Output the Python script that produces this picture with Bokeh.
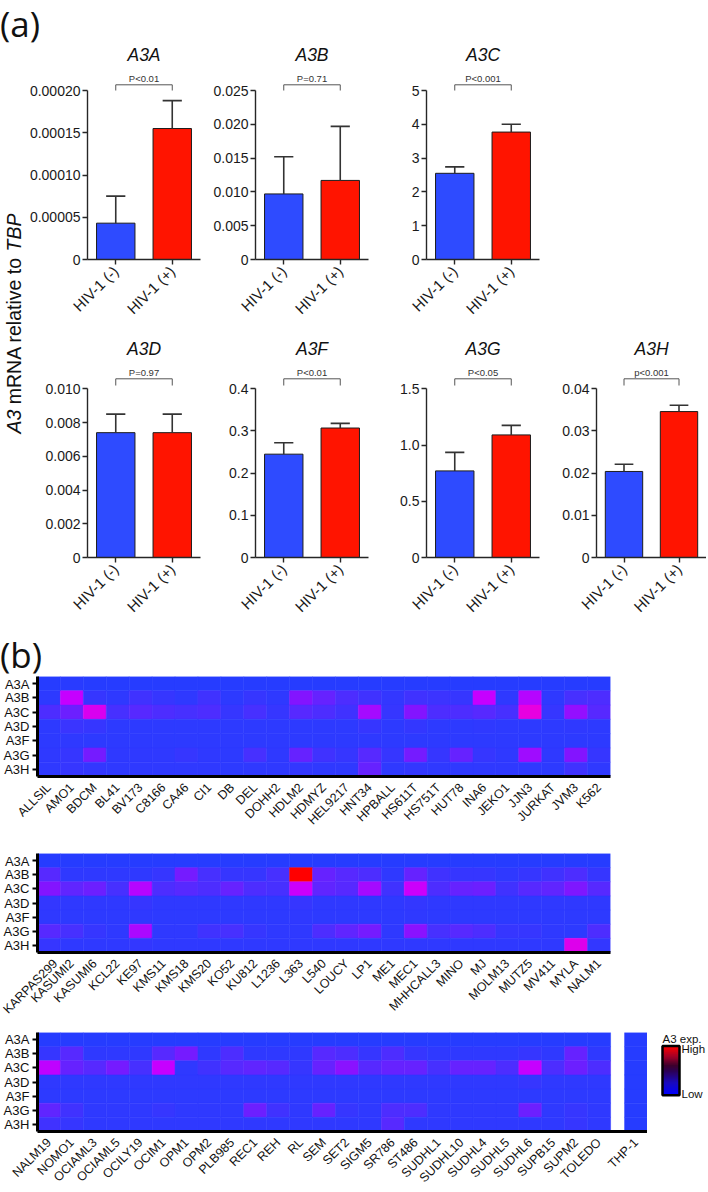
import math
import numpy as np
from bokeh.plotting import figure
from bokeh.models import ColumnDataSource, Range1d, FixedTicker, FactorRange, LinearColorMapper, Div
from bokeh.layouts import row, column
from bokeh.transform import transform, dodge
from bokeh.core.properties import value
from bokeh.embed import file_html
from bokeh.resources import INLINE

FONT = "Liberation Sans"
HEAD_FONT = "Open Sans"
BLUE = "#2E4BFF"
RED = "#FF1400"
AXIS = "#262626"

# ---------------- panel (a) data ----------------
groups = ["HIV-1 (-)", "HIV-1 (+)"]

a3a_mean = [0.000043, 0.000155]
a3a_upper = [0.000075, 0.000188]
a3a_ticks = [0, 0.00005, 0.0001, 0.00015, 0.0002]
a3a_labels = ["0", "0.00005", "0.00010", "0.00015", "0.00020"]
a3a_p = "P<0.01"

a3b_mean = [0.0097, 0.0117]
a3b_upper = [0.0152, 0.0197]
a3b_ticks = [0, 0.005, 0.01, 0.015, 0.02, 0.025]
a3b_labels = ["0", "0.005", "0.010", "0.015", "0.020", "0.025"]
a3b_p = "P=0.71"

a3c_mean = [2.55, 3.77]
a3c_upper = [2.74, 4.0]
a3c_ticks = [0, 1, 2, 3, 4, 5]
a3c_labels = ["0", "1", "2", "3", "4", "5"]
a3c_p = "P<0.001"

a3d_mean = [0.0074, 0.0074]
a3d_upper = [0.0085, 0.0085]
a3d_ticks = [0, 0.002, 0.004, 0.006, 0.008, 0.01]
a3d_labels = ["0", "0.002", "0.004", "0.006", "0.008", "0.010"]
a3d_p = "P=0.97"

a3f_mean = [0.245, 0.307]
a3f_upper = [0.272, 0.318]
a3f_ticks = [0, 0.1, 0.2, 0.3, 0.4]
a3f_labels = ["0", "0.1", "0.2", "0.3", "0.4"]
a3f_p = "P<0.01"

a3g_mean = [0.77, 1.09]
a3g_upper = [0.935, 1.175]
a3g_ticks = [0, 0.5, 1.0, 1.5]
a3g_labels = ["0", "0.5", "1.0", "1.5"]
a3g_p = "P<0.05"

a3h_mean = [0.0204, 0.0346]
a3h_upper = [0.0221, 0.0361]
a3h_ticks = [0, 0.01, 0.02, 0.03, 0.04]
a3h_labels = ["0", "0.01", "0.02", "0.03", "0.04"]
a3h_p = "p<0.001"

# ---------------- panel (b) data ----------------
genes = ["A3A", "A3B", "A3C", "A3D", "A3F", "A3G", "A3H"]

hm1_lines = ["ALLSIL", "AMO1", "BDCM", "BL41", "BV173", "C8166", "CA46", "CI1", "DB", "DEL",
             "DOHH2", "HDLM2", "HDMYZ", "HEL9217", "HNT34", "HPBALL", "HS611T", "HS751T",
             "HUT78", "INA6", "JEKO1", "JJN3", "JURKAT", "JVM3", "K562"]
hm1_A3A = [0.00, 0.01, 0.00, 0.00, 0.00, 0.00, 0.00, 0.00, 0.00, 0.00, 0.00, 0.00, 0.00,
           0.00, 0.00, 0.00, 0.00, 0.00, 0.00, 0.00, 0.00, 0.00, 0.00, 0.00, 0.00]
hm1_A3B = [0.02, 0.50, 0.05, 0.03, 0.08, 0.05, 0.03, 0.08, 0.02, 0.05, 0.03, 0.30, 0.20,
           0.12, 0.08, 0.04, 0.08, 0.07, 0.05, 0.50, 0.03, 0.45, 0.03, 0.10, 0.12]
hm1_A3C = [0.12, 0.22, 0.58, 0.10, 0.15, 0.12, 0.10, 0.12, 0.05, 0.10, 0.05, 0.15, 0.12,
           0.08, 0.40, 0.05, 0.30, 0.12, 0.12, 0.15, 0.10, 0.65, 0.05, 0.35, 0.15]
hm1_A3D = [0.02, 0.06, 0.05, 0.02, 0.02, 0.02, 0.02, 0.02, 0.02, 0.02, 0.02, 0.02, 0.02,
           0.02, 0.05, 0.02, 0.04, 0.02, 0.02, 0.03, 0.02, 0.02, 0.02, 0.03, 0.02]
hm1_A3F = [0.02, 0.03, 0.02, 0.02, 0.02, 0.02, 0.02, 0.02, 0.02, 0.02, 0.02, 0.02, 0.02,
           0.02, 0.03, 0.02, 0.02, 0.02, 0.02, 0.02, 0.02, 0.02, 0.02, 0.02, 0.02]
hm1_A3G = [0.03, 0.05, 0.25, 0.03, 0.03, 0.03, 0.05, 0.03, 0.02, 0.10, 0.03, 0.20, 0.08,
           0.05, 0.15, 0.05, 0.25, 0.05, 0.20, 0.05, 0.03, 0.38, 0.03, 0.30, 0.05]
hm1_A3H = [0.03, 0.05, 0.04, 0.03, 0.03, 0.03, 0.03, 0.03, 0.02, 0.03, 0.03, 0.04, 0.03,
           0.03, 0.20, 0.03, 0.04, 0.03, 0.03, 0.03, 0.03, 0.03, 0.02, 0.08, 0.03]

hm2_lines = ["KARPAS299", "KASUMI2", "KASUMI6", "KCL22", "KE97", "KMS11", "KMS18", "KMS20",
             "KO52", "KU812", "L1236", "L363", "L540", "LOUCY", "LP1", "ME1", "MEC1",
             "MHHCALL3", "MINO", "MJ", "MOLM13", "MUTZ5", "MV411", "MYLA", "NALM1"]
hm2_A3A = [0.00, 0.00, 0.00, 0.00, 0.00, 0.00, 0.00, 0.00, 0.00, 0.00, 0.00, 0.00, 0.00,
           0.00, 0.00, 0.00, 0.00, 0.00, 0.00, 0.00, 0.00, 0.00, 0.00, 0.00, 0.00]
hm2_A3B = [0.15, 0.03, 0.03, 0.03, 0.03, 0.05, 0.25, 0.10, 0.05, 0.05, 0.10, 1.00, 0.20,
           0.15, 0.12, 0.03, 0.20, 0.08, 0.05, 0.05, 0.03, 0.05, 0.08, 0.12, 0.05]
hm2_A3C = [0.30, 0.18, 0.22, 0.10, 0.45, 0.12, 0.15, 0.12, 0.20, 0.12, 0.10, 0.52, 0.18,
           0.15, 0.40, 0.08, 0.52, 0.12, 0.20, 0.22, 0.08, 0.15, 0.18, 0.28, 0.15]
hm2_A3D = [0.04, 0.03, 0.03, 0.03, 0.05, 0.03, 0.03, 0.03, 0.03, 0.03, 0.03, 0.05, 0.03,
           0.03, 0.03, 0.03, 0.04, 0.03, 0.03, 0.03, 0.03, 0.03, 0.03, 0.03, 0.03]
hm2_A3F = [0.03, 0.02, 0.02, 0.02, 0.03, 0.02, 0.02, 0.02, 0.02, 0.02, 0.02, 0.03, 0.02,
           0.02, 0.02, 0.02, 0.03, 0.02, 0.02, 0.02, 0.02, 0.02, 0.02, 0.02, 0.02]
hm2_A3G = [0.15, 0.10, 0.05, 0.03, 0.42, 0.03, 0.03, 0.08, 0.10, 0.05, 0.03, 0.03, 0.12,
           0.18, 0.25, 0.03, 0.32, 0.10, 0.15, 0.12, 0.05, 0.05, 0.03, 0.02, 0.12]
hm2_A3H = [0.05, 0.03, 0.03, 0.03, 0.04, 0.03, 0.03, 0.03, 0.03, 0.03, 0.03, 0.03, 0.03,
           0.03, 0.03, 0.03, 0.03, 0.03, 0.03, 0.03, 0.03, 0.03, 0.03, 0.60, 0.04]

hm3_lines = ["NALM19", "NOMO1", "OCIAML3", "OCIAML5", "OCILY19", "OCIM1", "OPM1", "OPM2",
             "PLB985", "REC1", "REH", "RL", "SEM", "SET2", "SIGM5", "SR786", "ST486",
             "SUDHL1", "SUDHL10", "SUDHL4", "SUDHL5", "SUDHL6", "SUPB15", "SUPM2", "TOLEDO"]
hm3_A3A = [0.00, 0.00, 0.00, 0.00, 0.00, 0.00, 0.00, 0.00, 0.00, 0.00, 0.00, 0.00, 0.00,
           0.00, 0.00, 0.00, 0.00, 0.00, 0.00, 0.00, 0.00, 0.00, 0.00, 0.00, 0.00]
hm3_A3B = [0.05, 0.15, 0.03, 0.03, 0.03, 0.15, 0.25, 0.03, 0.12, 0.03, 0.03, 0.03, 0.15,
           0.12, 0.05, 0.12, 0.05, 0.03, 0.03, 0.03, 0.03, 0.05, 0.03, 0.20, 0.03]
hm3_A3C = [0.48, 0.20, 0.15, 0.25, 0.10, 0.50, 0.03, 0.08, 0.15, 0.18, 0.15, 0.05, 0.20,
           0.32, 0.15, 0.20, 0.20, 0.10, 0.20, 0.20, 0.12, 0.50, 0.12, 0.22, 0.12]
hm3_A3D = [0.03, 0.03, 0.03, 0.03, 0.03, 0.03, 0.03, 0.03, 0.03, 0.03, 0.03, 0.03, 0.03,
           0.03, 0.03, 0.03, 0.03, 0.03, 0.03, 0.03, 0.03, 0.05, 0.03, 0.03, 0.03]
hm3_A3F = [0.02, 0.02, 0.02, 0.02, 0.02, 0.02, 0.02, 0.02, 0.02, 0.02, 0.02, 0.02, 0.02,
           0.02, 0.02, 0.02, 0.02, 0.02, 0.02, 0.02, 0.02, 0.02, 0.02, 0.02, 0.02]
hm3_A3G = [0.18, 0.08, 0.03, 0.03, 0.03, 0.05, 0.03, 0.03, 0.03, 0.22, 0.08, 0.03, 0.20,
           0.05, 0.03, 0.12, 0.12, 0.03, 0.03, 0.03, 0.03, 0.22, 0.03, 0.05, 0.03]
hm3_A3H = [0.08, 0.05, 0.03, 0.03, 0.03, 0.03, 0.03, 0.03, 0.03, 0.03, 0.03, 0.03, 0.03,
           0.03, 0.03, 0.15, 0.03, 0.03, 0.03, 0.03, 0.03, 0.03, 0.03, 0.05, 0.03]

thp1_line = "THP-1"
thp1_vals = [0.0, 0.0, 0.0, 0.0, 0.0, 0.0, 0.0]

cbar_title = "A3 exp."
cbar_labels = ["Low", "High"]


# ---------------- colour ramps (style) ----------------
def ramp(stops, n=256):
    out = []
    for i in range(n):
        t = i / (n - 1)
        c = stops[-1][1]
        for (t0, c0), (t1, c1) in zip(stops[:-1], stops[1:]):
            if t0 <= t <= t1:
                f = (t - t0) / (t1 - t0)
                c = [round(a + (b - a) * f) for a, b in zip(c0, c1)]
                break
        out.append("#%02x%02x%02x" % tuple(c))
    return out


cell_palette = ramp([(0.0, (38, 60, 255)), (0.12, (78, 45, 255)), (0.30, (132, 20, 255)),
                     (0.50, (198, 0, 255)), (0.65, (232, 0, 225)), (0.82, (248, 0, 110)),
                     (1.0, (255, 0, 0))])
bar_palette = ramp([(0.0, (0, 0, 255)), (0.25, (25, 10, 190)), (0.5, (45, 0, 80)),
                    (0.6, (60, 0, 45)), (0.78, (160, 0, 40)), (1.0, (255, 0, 0))])
cell_mapper = LinearColorMapper(palette=cell_palette, low=0, high=1)
bar_mapper = LinearColorMapper(palette=bar_palette, low=0, high=1)


def blank(w, h):
    p = figure(width=w, height=h, x_range=Range1d(0, w), y_range=Range1d(0, h),
               min_border=0, min_border_left=0, min_border_right=0,
               min_border_top=0, min_border_bottom=0,
               x_axis_location=None, y_axis_location=None,
               toolbar_location=None, output_backend="svg", title=None)
    p.outline_line_color = None
    p.xgrid.visible = False
    p.ygrid.visible = False
    return p


def header(txt, h, lh):
    return Div(text=txt, width=200, height=h, margin=(0, 0, 0, 0),
               styles={"font-family": "'Open Sans'", "font-size": "35px",
                       "line-height": f"{lh}px", "color": "#111111",
                       "margin": "0", "padding": "0"})


def bar_panel(name, mean, upper, ticks, labels, ptext, frame_w, frame_h, axis_top,
              px_title, px_p, px_br, px_leg, left, right, bottom):
    ymax = ticks[-1]
    axis_h = frame_h - axis_top

    def yd(px):
        return ymax * (frame_h - px) / axis_h

    p = figure(title=None, toolbar_location=None, output_backend="svg",
               frame_width=frame_w, frame_height=frame_h,
               x_range=Range1d(0.5, 2.5), y_range=Range1d(0, yd(0)),
               min_border_left=left, min_border_right=right,
               min_border_top=0, min_border_bottom=bottom)
    src = ColumnDataSource(dict(x=[1, 2], top=mean, upper=upper, color=[BLUE, RED]))
    p.vbar(x="x", top="top", bottom=0, width=0.68, fill_color="color",
           line_color="#1c1c1c", line_width=1, source=src)
    p.segment(x0="x", y0="top", x1="x", y1="upper", line_color="#333333",
              line_width=1.6, source=src)
    p.segment(x0=dodge("x", -0.17), y0="upper", x1=dodge("x", 0.17), y1="upper",
              line_color="#333333", line_width=1.6, source=src)
    # significance bracket
    p.line(x=[1, 1, 2, 2], y=[yd(px_leg), yd(px_br), yd(px_br), yd(px_leg)],
           line_color="#555555", line_width=1)
    p.text(x=[1.5], y=[yd(px_p)], text=[ptext], text_font=value(FONT),
           text_font_size="9.5px", text_color="#333333",
           text_align="center", text_baseline="middle")
    p.text(x=[1.5], y=[yd(px_title)], text=[name], text_font=value(FONT),
           text_font_style="italic", text_font_size="17.5px", text_color="#111111",
           text_align="center", text_baseline="middle")

    p.outline_line_color = None
    p.xgrid.visible = False
    p.ygrid.visible = False
    for ax in (p.xaxis[0], p.yaxis[0]):
        ax.axis_line_color = AXIS
        ax.axis_line_width = 1.4
        ax.major_tick_line_color = AXIS
        ax.major_tick_line_width = 1.4
        ax.major_tick_out = 5
        ax.major_tick_in = 0
        ax.minor_tick_line_color = None
        ax.major_label_text_font = FONT
        ax.major_label_text_font_size = "14px"
        ax.major_label_text_color = "#1a1a1a"
    p.yaxis.ticker = FixedTicker(ticks=ticks)
    p.yaxis.major_label_overrides = dict(zip(ticks, labels))
    p.yaxis.bounds = (0, ymax)
    p.yaxis.major_label_standoff = 2
    p.xaxis.ticker = FixedTicker(ticks=[1, 2])
    p.xaxis.major_label_overrides = {1: groups[0], 2: groups[1]}
    p.xaxis.major_label_orientation = math.pi / 4
    p.xaxis.major_label_standoff = 4
    p.xaxis.major_label_text_font_size = "15px"
    return p


R1 = dict(frame_h=217, axis_top=48, px_title=12.5, px_p=36, px_br=42.3, px_leg=48, bottom=77)
R2 = dict(frame_h=221, axis_top=52.3, px_title=12.5, px_p=35.7, px_br=42.3, px_leg=49, bottom=75)

f_a3a = bar_panel("A3A", a3a_mean, a3a_upper, a3a_ticks, a3a_labels, a3a_p, 113, left=62, right=5, **R1)
f_a3b = bar_panel("A3B", a3b_mean, a3b_upper, a3b_ticks, a3b_labels, a3b_p, 113, left=50, right=5, **R1)
f_a3c = bar_panel("A3C", a3c_mean, a3c_upper, a3c_ticks, a3c_labels, a3c_p, 113, left=53, right=5, **R1)
f_a3d = bar_panel("A3D", a3d_mean, a3d_upper, a3d_ticks, a3d_labels, a3d_p, 113, left=62, right=5, **R2)
f_a3f = bar_panel("A3F", a3f_mean, a3f_upper, a3f_ticks, a3f_labels, a3f_p, 113, left=50, right=5, **R2)
f_a3g = bar_panel("A3G", a3g_mean, a3g_upper, a3g_ticks, a3g_labels, a3g_p, 113, left=53, right=5, **R2)
f_a3h = bar_panel("A3H", a3h_mean, a3h_upper, a3h_ticks, a3h_labels, a3h_p, 110, left=52, right=0, **R2)

# shared y-axis title (rotated), split for italic gene names
YLAB_H = 217 + 77 + 221 + 75
ylab = blank(25, YLAB_H)
y_fs = 19.5
w_a3, w_sp, w_mid = 1.223 * y_fs, 0.278 * y_fs, 7.557 * y_fs
y_center = YLAB_H - 281
y0 = y_center - (w_a3 + w_sp + w_mid + w_sp + 1.945 * y_fs) / 2
for txt, yy, style in [("A3", y0, "italic"),
                       ("mRNA relative to", y0 + w_a3 + w_sp, "normal"),
                       ("TBP", y0 + w_a3 + w_sp + w_mid + w_sp, "italic")]:
    ylab.text(x=[13.5], y=[yy], text=[txt], angle=math.pi / 2, text_font=value(FONT),
              text_font_style=style, text_font_size=f"{y_fs}px", text_color="#111111",
              text_align="left", text_baseline="middle")

head_a = header("(a)", 42, 48)
head_b = header("(b)", 44, 46)


def heat_panel(xfactors, xkeys, rows, frame_h, top, bottom, frame_w=573, group_padding=0.0):
    xs, ys, vs = [], [], []
    for g, vals in zip(genes, rows):
        for key, v in zip(xkeys, vals):
            xs.append(key)
            ys.append(g)
            vs.append(v)
    p = figure(title=None, toolbar_location=None, output_backend="svg",
               x_range=FactorRange(factors=list(xfactors), group_padding=group_padding),
               y_range=FactorRange(factors=genes[::-1]),
               frame_width=frame_w, frame_height=frame_h,
               min_border_left=37, min_border_right=0 if group_padding else 8,
               min_border_top=top, min_border_bottom=bottom)
    src = ColumnDataSource(dict(x=xs, y=ys, v=vs))
    p.rect(x="x", y="y", width=1, height=1, source=src,
           fill_color=transform("v", cell_mapper), line_color=transform("v", cell_mapper),
           line_width=0.5)
    p.outline_line_color = None
    p.xgrid.visible = False
    p.ygrid.visible = False
    xa = p.xaxis[0]
    xa.axis_line_color = "black"
    xa.axis_line_width = 3
    xa.major_tick_line_color = None
    xa.minor_tick_line_color = None
    xa.major_label_orientation = math.pi / 4
    xa.major_label_text_font = FONT
    xa.major_label_text_font_size = "12.5px"
    xa.major_label_text_color = "#111111"
    xa.major_label_standoff = 3
    xa.group_text_font_size = "1px"
    xa.group_text_alpha = 0
    xa.separator_line_color = None
    ya = p.yaxis[0]
    ya.axis_line_color = "black"
    ya.axis_line_width = 3
    ya.major_tick_line_color = "black"
    ya.major_tick_line_width = 2
    ya.major_tick_out = 5
    ya.major_tick_in = 0
    ya.minor_tick_line_color = None
    ya.major_label_text_font = FONT
    ya.major_label_text_font_size = "13px"
    ya.major_label_text_color = "#111111"
    ya.major_label_standoff = 3
    return p


hm1 = heat_panel(hm1_lines, hm1_lines,
                 [hm1_A3A, hm1_A3B, hm1_A3C, hm1_A3D, hm1_A3F, hm1_A3G, hm1_A3H],
                 frame_h=100, top=0, bottom=77)
hm2 = heat_panel(hm2_lines, hm2_lines,
                 [hm2_A3A, hm2_A3B, hm2_A3C, hm2_A3D, hm2_A3F, hm2_A3G, hm2_A3H],
                 frame_h=99, top=0, bottom=69)
# third block plus the separate THP-1 column, as two factor groups
hm3_keys = [("L", ln) for ln in hm3_lines] + [("T", thp1_line)]
hm3_rows = [vals + [t] for vals, t in zip(
    [hm3_A3A, hm3_A3B, hm3_A3C, hm3_A3D, hm3_A3F, hm3_A3G, hm3_A3H], thp1_vals)]
hm3 = heat_panel(hm3_keys, hm3_keys, hm3_rows, frame_h=99, top=8, bottom=54,
                 frame_w=610, group_padding=0.61)

# colour scale legend
cb = blank(59, 161)
cb.image(image=[np.linspace(0, 1, 120).reshape(-1, 1)], x=15, y=50, dw=17, dh=87,
         color_mapper=bar_mapper)
cb.quad(left=[15], right=[32], bottom=[50], top=[137], fill_color=None,
        line_color="black", line_width=2.5)
cb.text(x=[15], y=[150], text=[cbar_title], text_font=value(FONT), text_font_size="11.5px",
        text_color="#111111", text_align="left", text_baseline="middle")
cb.text(x=[34, 34], y=[53, 132], text=cbar_labels, text_font=value(FONT),
        text_font_size="11.5px", text_color="#111111", text_align="left",
        text_baseline="middle")

layout = column(
    head_a,
    row(ylab, column(row(f_a3a, f_a3b, f_a3c), row(f_a3d, f_a3f, f_a3g, f_a3h))),
    head_b,
    hm1,
    hm2,
    row(hm3, cb),
)

with open("out.html", "w") as fh:
    fh.write(file_html(layout, INLINE))
